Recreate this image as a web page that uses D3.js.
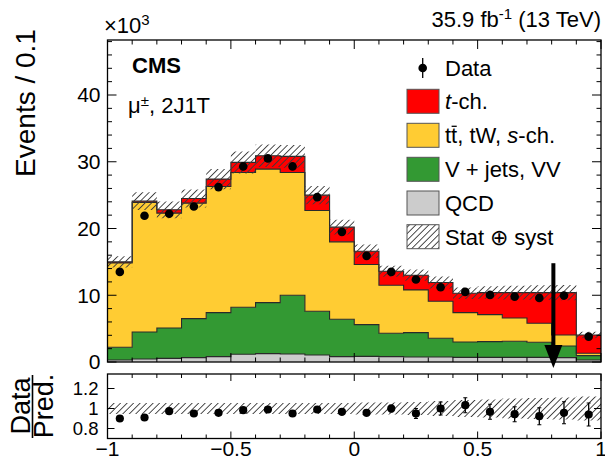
<!DOCTYPE html>
<html>
<head>
<meta charset="utf-8">
<script src="https://cdn.jsdelivr.net/npm/d3@7"></script>
<style>
  html, body { margin: 0; padding: 0; background: #fff; }
  svg { display: block; font-family: "Liberation Sans", Arial, Helvetica, sans-serif; }
</style>
</head>
<body>
<svg id="chart" width="605" height="463"></svg>
<script>
// Discriminant distribution, mu channel, 2 jets 1 tag (events in thousands per 0.1 bin)
const binEdges = d3.range(21).map(i => +(-1 + i * 0.1).toFixed(1));

const qcd   = [0.30, 0.45, 0.55, 0.65, 0.80, 1.15, 1.25, 1.20, 1.05, 0.80, 0.85, 0.80, 0.75, 0.75, 0.70, 0.70, 0.70, 0.70, 0.65, 0.30];
const vjets = [1.90, 4.05, 4.55, 5.85, 6.60, 7.05, 7.65, 8.80, 6.55, 5.60, 4.75, 3.50, 3.65, 2.80, 2.30, 2.35, 2.40, 2.25, 1.75, 0.65];
const ttbar = [12.65, 19.40, 17.20, 17.30, 18.90, 20.20, 20.00, 18.40, 15.10, 11.60, 9.00, 7.20, 6.40, 5.55, 4.40, 4.05, 3.50, 2.85, 1.65, 0.35];
const tch   = [0.15, 0.20, 0.50, 0.70, 1.10, 1.50, 2.00, 2.40, 2.30, 2.20, 2.00, 2.10, 2.20, 2.80, 2.90, 3.30, 3.80, 4.60, 6.35, 2.75];

const dataObs = [13.5, 21.9, 22.2, 23.3, 26.2, 29.3, 30.5, 29.3, 24.7, 19.5, 15.9, 13.5, 12.35, 11.2, 10.5, 10.05, 9.8, 9.6, 9.95, 3.8];

// relative stat+syst uncertainty on the prediction
const relUnc = [0.055, 0.055, 0.055, 0.055, 0.055, 0.055, 0.055, 0.055, 0.055, 0.055, 0.06, 0.06, 0.065, 0.075, 0.085, 0.09, 0.10, 0.105, 0.11, 0.12];

// lower panel: data / prediction
const ratioObs = [0.90, 0.91, 0.973, 0.95, 0.957, 0.983, 0.99, 0.95, 0.99, 0.967, 0.957, 1.0, 0.95, 1.0, 1.033, 0.967, 0.943, 0.923, 0.957, 0.94];
const ratioErr = [0.02, 0.02, 0.02, 0.02, 0.025, 0.025, 0.025, 0.025, 0.03, 0.03, 0.03, 0.035, 0.05, 0.065, 0.075, 0.075, 0.075, 0.085, 0.11, 0.115];

const yTickValues = [0, 10, 20, 30, 40];
const yTickLabels = ["0", "10", "20", "30", "40"];
const xTickValues = [-1, -0.5, 0, 0.5, 1];
const xTickLabels = ["\u22121", "\u22120.5", "0", "0.5", "1"];
const ratioTickValues = [0.8, 1, 1.2];
const ratioTickLabels = ["0.8", "1", "1.2"];

const cutValue = 0.807;          // position of the selection arrow
const arrowRange = [14.8, -0.9]; // arrow top and tip, thousands of events

const colors = { tch: "#ff0000", ttbar: "#ffcc33", vjets: "#339933", qcd: "#cccccc" };
const layerKeys = ["qcd", "vjets", "ttbar", "tch"];

// ---------------------------------------------------------------------------
const svg = d3.select("#chart");
const M = { left: 107.5, right: 601, top: 40, bottom: 362 };
const R = { top: 374, bottom: 438.5 };

const x = d3.scaleLinear().domain([-1, 1]).range([M.left, M.right]);
const y = d3.scaleLinear().domain([0, 48.24]).range([M.bottom, M.top]);
const yR = d3.scaleLinear().domain([0.7, 1.345]).range([R.bottom, R.top]);

const defs = svg.append("defs");
const pat = defs.append("pattern")
  .attr("id", "hatch").attr("patternUnits", "userSpaceOnUse")
  .attr("width", 4.6).attr("height", 4.6)
  .attr("patternTransform", "rotate(45)");
pat.append("line").attr("x1", 2.3).attr("y1", 0).attr("x2", 2.3).attr("y2", 4.6)
  .attr("stroke", "#3a3a3a").attr("stroke-width", 0.9);

defs.append("clipPath").attr("id", "clipMain").append("rect")
  .attr("x", M.left).attr("y", M.top).attr("width", M.right - M.left).attr("height", M.bottom - M.top);
defs.append("clipPath").attr("id", "clipRatio").append("rect")
  .attr("x", M.left).attr("y", R.top).attr("width", M.right - M.left).attr("height", R.bottom - R.top);

// step helpers: one [x, low, high] pair per bin edge
function steps(lo, hi) {
  const pts = [];
  lo.forEach((l, i) => {
    pts.push([binEdges[i], l, hi[i]]);
    pts.push([binEdges[i + 1], l, hi[i]]);
  });
  return pts;
}

// ---- stacked histograms ----
const rows = qcd.map((_, i) => ({ qcd: qcd[i], vjets: vjets[i], ttbar: ttbar[i], tch: tch[i] }));
const stacked = d3.stack().keys(layerKeys)(rows);
const total = rows.map(r => r.qcd + r.vjets + r.ttbar + r.tch);

const gMain = svg.append("g").attr("clip-path", "url(#clipMain)");
const area = d3.area().x(d => x(d[0])).y0(d => y(d[1])).y1(d => y(d[2]));
const topLine = d3.line().x(d => x(d[0])).y(d => y(d[2]));

stacked.forEach(s => {
  const pts = steps(s.map(d => d[0]), s.map(d => d[1]));
  gMain.append("path").attr("d", area(pts)).attr("fill", colors[s.key]);
});
stacked.forEach(s => {
  const pts = steps(s.map(d => d[0]), s.map(d => d[1]));
  gMain.append("path").attr("d", topLine(pts))
    .attr("fill", "none").attr("stroke", "#2a2a2a").attr("stroke-width", 1.1);
});

// uncertainty band around the total prediction
gMain.append("path")
  .attr("d", area(steps(total.map((t, i) => t * (1 - relUnc[i])), total.map((t, i) => t * (1 + relUnc[i])))))
  .attr("fill", "url(#hatch)");

// data points
const centers = binEdges.slice(0, -1).map((e, i) => (e + binEdges[i + 1]) / 2);
gMain.selectAll("circle.data").data(dataObs).join("circle")
  .attr("cx", (d, i) => x(centers[i])).attr("cy", d => y(d)).attr("r", 4.3).attr("fill", "#000");

// ---- ratio panel ----
const gRatio = svg.append("g").attr("clip-path", "url(#clipRatio)");
const areaR = d3.area().x(d => x(d[0])).y0(d => yR(d[1])).y1(d => yR(d[2]));
gRatio.append("path")
  .attr("d", areaR(steps(relUnc.map(u => 1 - u), relUnc.map(u => 1 + u))))
  .attr("fill", "url(#hatch)");

const errG = gRatio.selectAll("g.err").data(ratioObs).join("g");
errG.append("line")
  .attr("x1", (d, i) => x(centers[i])).attr("x2", (d, i) => x(centers[i]))
  .attr("y1", (d, i) => yR(d - ratioErr[i])).attr("y2", (d, i) => yR(d + ratioErr[i]))
  .attr("stroke", "#000").attr("stroke-width", 1.3);
[-1, 1].forEach(sgn => {
  errG.append("line")
    .attr("x1", (d, i) => x(centers[i]) - 2).attr("x2", (d, i) => x(centers[i]) + 2)
    .attr("y1", (d, i) => yR(d + sgn * ratioErr[i])).attr("y2", (d, i) => yR(d + sgn * ratioErr[i]))
    .attr("stroke", "#000").attr("stroke-width", 1.1);
});
errG.append("circle")
  .attr("cx", (d, i) => x(centers[i])).attr("cy", d => yR(d)).attr("r", 4.1).attr("fill", "#000");

// ---- ticks and frames ----
const axG = svg.append("g").attr("stroke", "#000").attr("stroke-width", 1);
function hTicks(vals, xPos, len, scale) {
  axG.selectAll(null).data(vals).join("line")
    .attr("x1", xPos).attr("x2", xPos + len)
    .attr("y1", d => scale(d)).attr("y2", d => scale(d));
}
function vTicks(vals, yPos, len) {
  axG.selectAll(null).data(vals).join("line")
    .attr("x1", d => x(d)).attr("x2", d => x(d))
    .attr("y1", yPos).attr("y2", yPos + len);
}
const yMinor = d3.range(2, 49, 2).filter(v => v % 10 !== 0);
const xMinor = d3.range(-10, 11).map(v => v / 10).filter(v => Math.abs(v * 2 - Math.round(v * 2)) > 1e-6);

hTicks(yTickValues, M.left, 9, y);
hTicks(yMinor, M.left, 4.5, y);
hTicks(yTickValues, M.right, -9, y);
hTicks(yMinor, M.right, -4.5, y);
vTicks(xTickValues, M.top, 9);
vTicks(xMinor, M.top, 4.5);
vTicks(xTickValues, M.bottom, -9);
vTicks(xMinor, M.bottom, -4.5);

hTicks(ratioTickValues, M.left, 7, yR);
hTicks(ratioTickValues, M.right, -7, yR);
vTicks(xTickValues, R.top, 7);
vTicks(xMinor, R.top, 4);
vTicks(xTickValues, R.bottom, -7);
vTicks(xMinor, R.bottom, -4);

svg.append("rect").attr("x", M.left).attr("y", M.top)
  .attr("width", M.right - M.left).attr("height", M.bottom - M.top)
  .attr("fill", "none").attr("stroke", "#000").attr("stroke-width", 1.3);
svg.append("rect").attr("x", M.left).attr("y", R.top)
  .attr("width", M.right - M.left).attr("height", R.bottom - R.top)
  .attr("fill", "none").attr("stroke", "#000").attr("stroke-width", 1.3);

// ---- selection arrow ----
const ax = x(cutValue), aTop = y(arrowRange[0]), aTip = y(arrowRange[1]);
svg.append("line").attr("x1", ax).attr("x2", ax).attr("y1", aTop).attr("y2", aTip - 20)
  .attr("stroke", "#000").attr("stroke-width", 4);
svg.append("path")
  .attr("d", `M${ax - 9},${aTip - 23}L${ax + 9},${aTip - 23}L${ax},${aTip}Z`)
  .attr("fill", "#000");

// ---- tick labels ----
const txt = svg.append("g").attr("fill", "#000");
txt.selectAll(null).data(yTickValues).join("text")
  .attr("x", M.left - 7).attr("y", d => y(d)).attr("dy", "0.35em")
  .attr("text-anchor", "end").attr("font-size", 21)
  .text((d, i) => yTickLabels[i]);
txt.selectAll(null).data(ratioTickValues).join("text")
  .attr("x", M.left - 9).attr("y", d => yR(d)).attr("dy", "0.35em")
  .attr("text-anchor", "end").attr("font-size", 18.5)
  .text((d, i) => ratioTickLabels[i]);
txt.selectAll(null).data(xTickValues).join("text")
  .attr("x", d => x(d)).attr("y", 456)
  .attr("text-anchor", "middle").attr("font-size", 21)
  .text((d, i) => xTickLabels[i]);

// ---- axis titles ----
txt.append("text").attr("transform", "translate(35,103) rotate(-90)")
  .attr("text-anchor", "middle").attr("font-size", 28).text("Events / 0.1");
txt.append("text").attr("transform", "translate(30,406) rotate(-90)")
  .attr("text-anchor", "middle").attr("font-size", 27).text("Data");
txt.append("text").attr("transform", "translate(53,406) rotate(-90)")
  .attr("text-anchor", "middle").attr("font-size", 27).text("Pred.");
svg.append("line").attr("x1", 32.5).attr("x2", 32.5).attr("y1", 375).attr("y2", 438)
  .attr("stroke", "#000").attr("stroke-width", 1.6);

const expo = txt.append("text").attr("x", 104).attr("y", 33).attr("font-size", 22);
expo.append("tspan").text("\u00d710");
expo.append("tspan").attr("font-size", 15).attr("dy", -8).text("3");

const lumi = txt.append("text").attr("x", 601).attr("y", 27).attr("text-anchor", "end").attr("font-size", 22);
lumi.append("tspan").text("35.9 fb");
lumi.append("tspan").attr("font-size", 15).attr("dy", -8).text("-1");
lumi.append("tspan").attr("dy", 8).text(" (13 TeV)");

txt.append("text").attr("x", 132).attr("y", 73).attr("font-size", 22).attr("font-weight", "bold").text("CMS");
const chan = txt.append("text").attr("x", 128).attr("y", 113).attr("font-size", 22);
chan.append("tspan").text("\u03bc");
chan.append("tspan").attr("font-size", 15).attr("dy", -7).text("\u00b1");
chan.append("tspan").attr("dy", 7).text(", 2J1T");

// ---- legend ----
const legX = 407, legTextX = 445;
const legRows = [68, 101.3, 135.3, 169.3, 203, 236.7];
const lg = svg.append("g");
lg.append("line").attr("x1", 422.7).attr("x2", 422.7).attr("y1", legRows[0] - 10).attr("y2", legRows[0] + 10)
  .attr("stroke", "#000").attr("stroke-width", 1.3);
lg.append("circle").attr("cx", 422.7).attr("cy", legRows[0]).attr("r", 4.3).attr("fill", "#000");
const boxes = [
  { fill: colors.tch, row: 1 }, { fill: colors.ttbar, row: 2 }, { fill: colors.vjets, row: 3 },
  { fill: colors.qcd, row: 4 }, { fill: "url(#hatch)", row: 5 }
];
lg.selectAll("rect").data(boxes).join("rect")
  .attr("x", legX).attr("y", d => legRows[d.row] - 12).attr("width", 32).attr("height", 24)
  .attr("fill", d => d.fill).attr("stroke", "#555").attr("stroke-width", 1);

function legText(row) {
  return lg.append("text").attr("x", legTextX).attr("y", legRows[row] + 8).attr("font-size", 22);
}
legText(0).text("Data");
const l1 = legText(1);
l1.append("tspan").attr("font-style", "italic").text("t");
l1.append("tspan").text("-ch.");
const l2 = legText(2);
l2.append("tspan").text("tt");
l2.append("tspan").text(", tW, ");
l2.append("tspan").attr("font-style", "italic").text("s");
l2.append("tspan").text("-ch.");
// bar over the second t (antitop)
{
  const node = l2.node();
  const p0 = node.getStartPositionOfChar(1), p1 = node.getEndPositionOfChar(1);
  lg.append("line").attr("x1", p0.x + 0.5).attr("x2", p1.x - 0.5)
    .attr("y1", p0.y - 17).attr("y2", p0.y - 17)
    .attr("stroke", "#000").attr("stroke-width", 1.3);
}
legText(3).text("V + jets, VV");
legText(4).text("QCD");
legText(5).text("Stat \u2295 syst");
</script>
</body>
</html>
